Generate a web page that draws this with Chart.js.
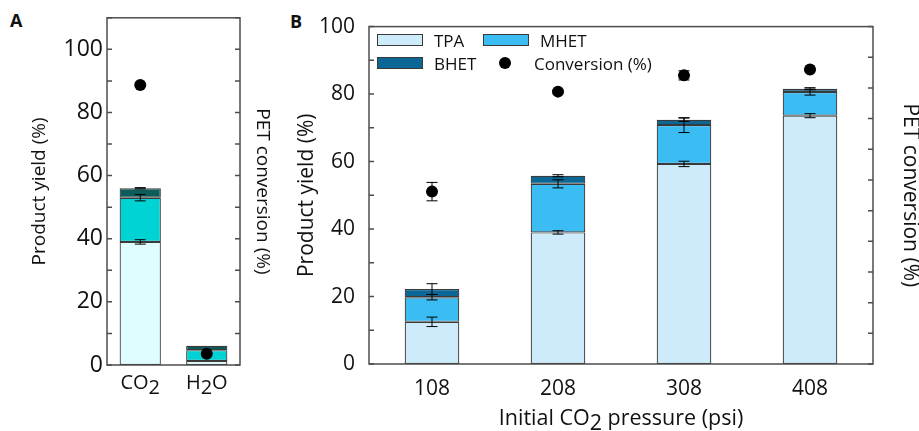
<!DOCTYPE html>
<html lang="en">
<head>
<meta charset="UTF-8">
<title>PET product yield vs CO2 pressure</title>
<script src="https://cdn.jsdelivr.net/npm/chart.js@4.4.1/dist/chart.umd.min.js"></script>
<style>
  html, body { margin: 0; padding: 0; background: #fff; }
  body {
    width: 919px; height: 431px; position: relative; overflow: hidden;
    font-family: 'Open Sans', sans-serif; color: #111;
  }
  #wrapA { position: absolute; left: 0; top: 0; width: 280px; height: 431px; }
  #wrapB { position: absolute; left: 280px; top: 0; width: 639px; height: 431px; }
  .panel-label { position: absolute; font-weight: bold; font-size: 18px; line-height: 18px; }
  .leg-item {
    position: absolute; height: 24px; display: flex; align-items: center;
    white-space: nowrap; font-size: 17px;
  }
  .swatch { width: 44px; height: 10px; border: 1px solid #3a3a3a; margin-right: 11px; }
  .dot { width: 12px; height: 12px; border-radius: 50%; background: #000; margin-right: 23px; }
</style>
</head>
<body>
<div class="panel-label" style="left:10px; top:11px;">A</div>
<div class="panel-label" style="left:290px; top:12px;">B</div>

<div id="wrapA"><canvas id="chartA" width="280" height="431"></canvas></div>
<div id="wrapB"><canvas id="chartB" width="639" height="431"></canvas></div>

<div class="leg-item" style="left:377px; top:28px;"><div class="swatch" style="background:#cdebfb"></div>TPA</div>
<div class="leg-item" style="left:483px; top:28px;"><div class="swatch" style="background:#3bbcf3"></div>MHET</div>
<div class="leg-item" style="left:377px; top:51px;"><div class="swatch" style="background:#0b6795"></div>BHET</div>
<div class="leg-item" style="left:499px; top:51px;"><div class="dot"></div>Conversion (%)</div>

<script>
// ---- panel A : CO2 vs H2O ----
const aCategories = ['CO2', 'H2O'];
const aTPA = [39.0, 1.3];
const aMHET = [14.0, 3.4];
const aBHET = [3.0, 1.4];
const aTPAErr = [0.7, 0];
const aMHETErr = [1.0, 0];
const aBHETErr = [0.2, 0];
const aConversion = [88.7, 3.6];
const aConversionErr = [0, 0];
const aYTicks = [0, 20, 40, 60, 80, 100];

// ---- panel B : initial CO2 pressure ----
const bPressures = ['108', '208', '308', '408'];
const bTPA = [12.5, 39.0, 59.3, 73.6];
const bMHET = [7.3, 14.4, 11.5, 7.0];
const bBHET = [2.4, 2.4, 1.6, 1.0];
const bTPAErr = [1.4, 0.5, 0.8, 0.6];
const bMHETErr = [0.8, 1.2, 2.2, 0.9];
const bBHETErr = [1.6, 0.3, 0.5, 0.3];
const bConversion = [56.2, 88.8, 94.1, 96.0];
const bConversionErr = [3.0, 0.5, 1.5, 0.3];
const bYTicks = [0, 20, 40, 60, 80, 100];

const minorStep = 10;
const frameColor = '#4d4d4d';
const textColor = '#111';

// draw "CO2" style text with the digits lowered as subscripts
function drawRich(ctx, text, cx, baseline, font, subShift) {
  const parts = text.split(/(\d)/).filter(p => p !== '');
  ctx.font = font;
  const widths = parts.map(p => ctx.measureText(p).width);
  let x = cx - widths.reduce((a, b) => a + b, 0) / 2;
  ctx.textAlign = 'left';
  ctx.textBaseline = 'alphabetic';
  ctx.fillStyle = textColor;
  parts.forEach((p, i) => {
    const isSub = /^\d$/.test(p);
    ctx.fillText(p, x, baseline + (isSub ? subShift : 0));
    x += widths[i];
  });
}

const decorPlugin = {
  id: 'decor',
  afterDatasetsDraw(chart, args, opts) {
    const ctx = chart.ctx;
    const y = chart.scales.y, y2 = chart.scales.y2;
    ctx.save();
    ctx.strokeStyle = '#000';
    ctx.lineWidth = 1;
    const cap = 5.5;
    const vbar = (x, lo, hi) => {
      ctx.beginPath();
      ctx.moveTo(x, lo); ctx.lineTo(x, hi);
      ctx.moveTo(x - cap, lo); ctx.lineTo(x + cap, lo);
      ctx.moveTo(x - cap, hi); ctx.lineTo(x + cap, hi);
      ctx.stroke();
    };
    // stacked segment error bars
    opts.errors.forEach((errs, i) => {
      const meta = chart.getDatasetMeta(i);
      errs.forEach((e, j) => {
        if (!e) return;
        let cum = 0;
        for (let k = 0; k <= i; k++) cum += chart.data.datasets[k].data[j];
        vbar(meta.data[j].x, y.getPixelForValue(cum - e), y.getPixelForValue(cum + e));
      });
    });
    // conversion error bars
    const cMeta = chart.getDatasetMeta(opts.errors.length);
    opts.convErr.forEach((e, j) => {
      if (!e) return;
      const v = chart.data.datasets[opts.errors.length].data[j];
      vbar(cMeta.data[j].x, y2.getPixelForValue(v - e), y2.getPixelForValue(v + e));
    });
    ctx.restore();
  },
  afterDraw(chart, args, opts) {
    const ctx = chart.ctx;
    const a = chart.chartArea;
    const y = chart.scales.y, y2 = chart.scales.y2, x = chart.scales.x;
    ctx.save();
    ctx.strokeStyle = frameColor;
    ctx.lineWidth = 1.5;
    ctx.beginPath();
    // inward tick marks every 10 units on both vertical axes
    for (let v = 0; v <= y.max; v += minorStep) {
      const py = y.getPixelForValue(v);
      ctx.moveTo(a.left, py); ctx.lineTo(a.left + 5, py);
    }
    for (let v = 0; v <= y2.max; v += minorStep) {
      const py = y2.getPixelForValue(v);
      ctx.moveTo(a.right, py); ctx.lineTo(a.right - 5, py);
    }
    ctx.stroke();
    ctx.strokeRect(a.left, a.top, a.right - a.left, a.bottom - a.top);
    ctx.restore();

    if (opts.richTicks) {
      chart.data.labels.forEach((lab, j) => {
        drawRich(ctx, lab, x.getPixelForValue(j), opts.richTicks.baseline, opts.richTicks.font, opts.richTicks.sub);
      });
    }
    if (opts.xTitle) {
      drawRich(ctx, opts.xTitle.text, (a.left + a.right) / 2, opts.xTitle.baseline, opts.xTitle.font, opts.xTitle.sub);
    }
  }
};

function makeChart(canvasId, cfg) {
  const datasets = [
    { label: 'TPA', data: cfg.tpa, backgroundColor: cfg.colors[0] },
    { label: 'MHET', data: cfg.mhet, backgroundColor: cfg.colors[1] },
    { label: 'BHET', data: cfg.bhet, backgroundColor: cfg.colors[2] }
  ].map(d => Object.assign(d, {
    type: 'bar', yAxisID: 'y', stack: 'yield', order: 1,
    borderColor: '#3a3a3a', borderWidth: 1.2, borderSkipped: false,
    barPercentage: cfg.barPct, categoryPercentage: 1
  }));
  datasets.push({
    type: 'line', label: 'Conversion (%)', data: cfg.conv, yAxisID: 'y2', order: 0,
    showLine: false, pointRadius: 6, pointHoverRadius: 6,
    pointBackgroundColor: '#000', pointBorderColor: '#000', pointBorderWidth: 0
  });

  return new Chart(document.getElementById(canvasId), {
    type: 'bar',
    data: { labels: cfg.labels, datasets },
    options: {
      responsive: false,
      animation: false,
      layout: { padding: { top: cfg.top, left: 0, right: 0, bottom: 0 } },
      plugins: {
        legend: { display: false },
        tooltip: { enabled: false },
        decor: {
          errors: cfg.errors, convErr: cfg.convErr,
          richTicks: cfg.richTicks, xTitle: cfg.xTitle
        }
      },
      scales: {
        x: {
          stacked: true, offset: true,
          grid: { display: false, drawTicks: false },
          border: { display: false },
          ticks: {
            display: !cfg.richTicks, color: textColor, padding: cfg.xTickPad,
            font: { family: 'Open Sans', size: cfg.tickSize }
          },
          afterFit: s => { s.height = cfg.xHeight; }
        },
        y: {
          stacked: true, position: 'left', min: 0, max: cfg.yMax,
          grid: { display: false, drawTicks: false },
          border: { display: false },
          afterBuildTicks: s => { s.ticks = cfg.yTicks.map(v => ({ value: v })); },
          ticks: {
            color: textColor, padding: cfg.yTickPad,
            font: { family: 'Open Sans', size: cfg.yTickSize }
          },
          title: {
            display: true, text: 'Product yield (%)', color: textColor,
            font: { family: 'Open Sans', size: cfg.titleSize },
            padding: { top: cfg.leftTitlePad, bottom: 0 }
          },
          afterFit: s => { s.width = cfg.leftWidth; }
        },
        y2: {
          position: 'right', min: 0, max: 110,
          grid: { display: false, drawTicks: false },
          border: { display: false },
          ticks: { display: false },
          title: {
            display: true, text: 'PET conversion (%)', color: textColor,
            font: { family: 'Open Sans', size: cfg.titleSize },
            padding: { top: cfg.rightTitlePad, bottom: 0 }
          },
          afterFit: s => { s.width = cfg.rightWidth; }
        }
      }
    },
    plugins: [decorPlugin]
  });
}

makeChart('chartA', {
  labels: aCategories, tpa: aTPA, mhet: aMHET, bhet: aBHET, conv: aConversion,
  errors: [aTPAErr, aMHETErr, aBHETErr], convErr: aConversionErr,
  colors: ['#e0fdfd', '#00d3d3', '#0d5c5c'],
  barPct: 0.62, yMax: 110, yTicks: aYTicks, top: 16,
  leftWidth: 107, rightWidth: 40, xHeight: 66,
  tickSize: 22, yTickSize: 23, titleSize: 19, yTickPad: 4, xTickPad: 10,
  leftTitlePad: 28, rightTitlePad: 6,
  richTicks: { font: '20px "Open Sans"', baseline: 389, sub: 5 }
});

makeChart('chartB', {
  labels: bPressures, tpa: bTPA, mhet: bMHET, bhet: bBHET, conv: bConversion,
  errors: [bTPAErr, bMHETErr, bBHETErr], convErr: bConversionErr,
  colors: ['#cdebfb', '#3bbcf3', '#0b6795'],
  barPct: 0.433, yMax: 100, yTicks: bYTicks, top: 23,
  leftWidth: 89, rightWidth: 46, xHeight: 67,
  tickSize: 21, yTickSize: 21, titleSize: 21, yTickPad: 14, xTickPad: 12,
  leftTitlePad: 14, rightTitlePad: -4,
  xTitle: { text: 'Initial CO2 pressure (psi)', font: '21.5px "Open Sans"', baseline: 425, sub: 5 }
});
</script>
</body>
</html>
